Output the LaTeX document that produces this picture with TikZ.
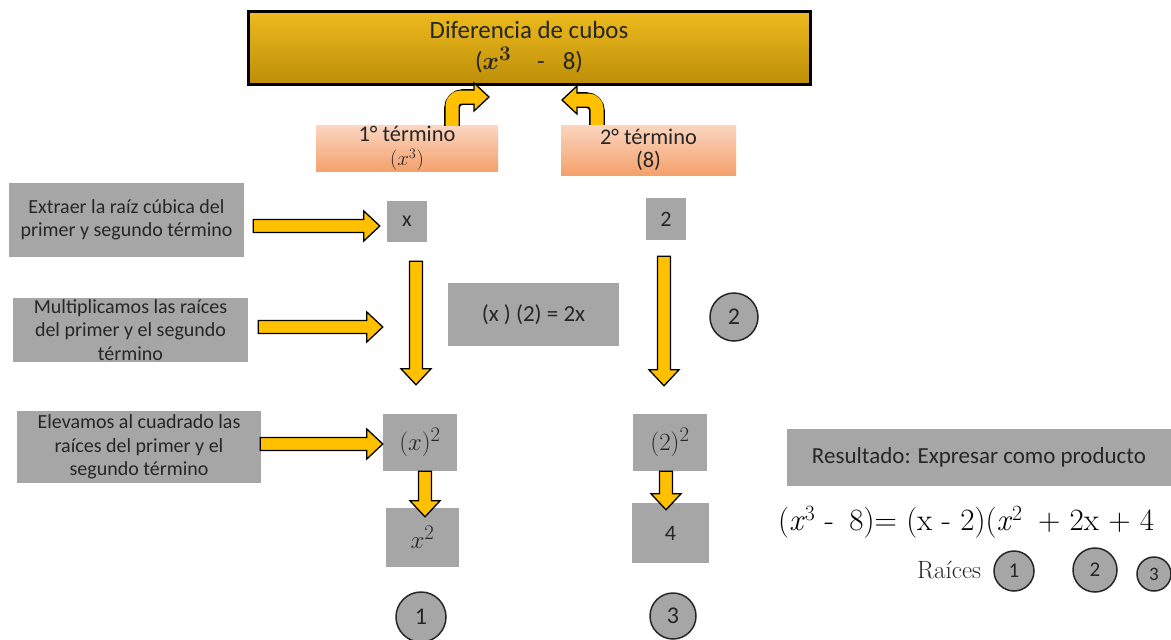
\documentclass[tikz,border=0pt]{standalone}
\usepackage{amsmath}
\usepackage{fontspec}
\setsansfont{Carlito}
\usetikzlibrary{calc}
\definecolor{boxgray}{HTML}{A6A6A6}
\definecolor{txt}{HTML}{262626}
\definecolor{arrgold}{HTML}{FFC000}
\definecolor{goldtop}{HTML}{EDBB1E}
\definecolor{goldmid}{HTML}{E0AC14}
\definecolor{goldbot}{HTML}{BD8E08}
\definecolor{peachtop}{HTML}{FBD5BF}
\definecolor{peachbot}{HTML}{F4A16C}
\def\arwS{6.5pt}
\def\arwH{15pt}
\def\arwL{16pt}
\begin{document}
\begin{tikzpicture}[x=1pt,y=-1pt,
  gbox/.style={fill=boxgray,text=txt,inner sep=0pt,align=center,
    font=\sffamily\fontsize{20}{23.5}\selectfont},
  mbox/.style={gbox,font=\sffamily\fontsize{22}{25}\selectfont},
  mathbox/.style={gbox,font=\sffamily\fontsize{24.88}{28}\selectfont},
  term/.style={top color=peachtop,bottom color=peachbot,text=txt,inner sep=0pt,
    align=center,font=\sffamily\fontsize{22.4}{23.5}\selectfont},
  titlebox/.style={top color=goldtop,middle color=goldmid,bottom color=goldbot,
    draw=black,line width=3pt,text=txt,inner sep=0pt,align=center,
    font=\sffamily\fontsize{24.88}{31}\selectfont},
  numc/.style={circle,fill=boxgray,draw=txt,line width=1.5pt,text=txt,inner sep=0pt,
    font=\sffamily\fontsize{24}{26}\selectfont},
  blockarrow/.style={fill=arrgold,draw=black,line width=1.3pt,line join=miter,
    to path={coordinate (bs) at (\tikztostart) coordinate (bt) at (\tikztotarget)
      coordinate (bh) at ($(bt)!\arwL!(bs)$)
      ($(bs)!\arwS!90:(bt)$) -- ($(bh)!\arwS!90:(bt)$) -- ($(bh)!\arwH!90:(bt)$)
      -- (bt) -- ($(bh)!\arwH!-90:(bt)$) -- ($(bh)!\arwS!-90:(bt)$)
      -- ($(bs)!\arwS!-90:(bt)$) -- cycle}},
  casing/.style={line width=15.6pt,draw=black,rounded corners=11pt},
  core/.style={line width=13pt,draw=arrgold,rounded corners=9pt}
]
\useasboundingbox (0,0) rectangle (1171,640);
\fill[white] (0,0) rectangle (1171,640);

% title
\node[titlebox,minimum width=562,minimum height=73] (title) at (529,47.5)
  {Diferencia de cubos\\($\boldsymbol{x}^{\boldsymbol{3}}$\hspace{26pt}-\hspace{18pt}8)};

% terms
\node[term,minimum width=182,minimum height=45] (t1) at (407,148.5)
  {1° término\\[1pt]$(x^3)$};
\node[term,minimum width=175,minimum height=50] (t2) at (648.5,150)
  {2° término\\(8)};

% bent arrows
\draw[casing] ($(t1.north)+(45,0)$) -- (452,97) -- (474,97);
\draw[core] ($(t1.north)+(45,0)$) -- (452,97) -- (474,97);
\fill[arrgold] (474,83) -- (489,97) -- (474,111) -- cycle;
\draw[line width=1.3pt,line join=miter] (474,90.5) -- (474,83) -- (489,97) -- (474,111) -- (474,103.5);

\draw[casing] ($(t2.north)+(-51.5,0)$) -- (597,100) -- (577,100);
\draw[core] ($(t2.north)+(-51.5,0)$) -- (597,100) -- (577,100);
\fill[arrgold] (577,86) -- (562,100) -- (577,114) -- cycle;
\draw[line width=1.3pt,line join=miter] (577,93.5) -- (577,86) -- (562,100) -- (577,114) -- (577,106.5);

% left explanation boxes
\node[gbox,minimum width=235,minimum height=74] (A) at (126.5,220)
  {Extraer la raíz cúbica del\\primer y segundo término};
\node[gbox,minimum width=235,minimum height=64] (B) at (130.5,330)
  {Multiplicamos las raíces\\del primer y el segundo\\término};
\node[gbox,minimum width=244,minimum height=72] (C) at (139,447)
  {Elevamos al cuadrado las\\raíces del primer y el\\segundo término};

% values
\node[mbox,minimum width=40,minimum height=41] (bx) at (407,221.5) {x};
\node[mbox,minimum width=40,minimum height=42] (b2) at (666,219) {2};
\node[gbox,font=\sffamily\fontsize{23}{26}\selectfont,minimum width=171,minimum height=63]
  (prod) at (533.5,314.5) {(x ) (2) = 2x};
\node[mathbox,minimum width=74,minimum height=57] (bx2) at (420,442.5) {$(x)^2$};
\node[mathbox,minimum width=74,minimum height=57] (b22) at (670,442.5) {$(2)^2$};
\node[mathbox,minimum width=73,minimum height=59] (bxx) at (422.5,537.5) {$x^2$};
\node[mbox,minimum width=77,minimum height=60] (b4) at (670.5,533) {4};

% circles
\node[numc,minimum size=50] (c1) at (421,617) {1};
\node[numc,minimum size=48] (c2) at (734,317) {2};
\node[numc,minimum size=46] (c3) at (673,616) {3};

% block arrows
\draw[blockarrow] ($(A.east)+(9,6)$) to ($(bx.west)+(-7,4.5)$);
\draw[blockarrow] ($(B.east)+(10,-3)$) to ($(bx2.west |- B.east)+(0,-3)$);
\draw[blockarrow] ($(C.east)+(-1,-3)$) to ($(bx2.west)+(0,1.5)$);
\draw[blockarrow] ($(bx.south)+(9,19)$) to ($(bx2.north)+(-4,-29)$);
\draw[blockarrow] ($(b2.south)+(-2,16)$) to ($(b22.north)+(-6,-28)$);
\draw[blockarrow] ($(bx2.south)+(5,0)$) to ($(bxx.north)+(2.5,9)$);
\draw[blockarrow] ($(b22.south)+(-4,0)$) to ($(b4.north)+(-4.5,7)$);

% result
\node[gbox,font=\sffamily\fontsize{23}{26}\selectfont,minimum width=384,minimum height=57]
  (res) at (979,457.5) {Resultado: Expresar como producto};
\node[anchor=base west,inner sep=0pt,text=black,font=\rmfamily\fontsize{31}{34}\selectfont]
  (eq) at (778,530) {(\textit{x}\textsuperscript{3} -\hspace{6pt} 8)= (x - 2)(\textit{x}\textsuperscript{2}\hspace{6pt} + 2x + 4};
\node[anchor=base west,inner sep=0pt,text=txt,font=\rmfamily\fontsize{25}{28}\selectfont]
  (raices) at (917,578) {Raíces};
\node[numc,minimum size=40,font=\sffamily\fontsize{21}{23}\selectfont] (r1) at (1014,571) {1};
\node[numc,minimum size=44,font=\sffamily\fontsize{21}{23}\selectfont] (r2) at (1095,570) {2};
\node[numc,minimum size=34,font=\sffamily\fontsize{19}{21}\selectfont] (r3) at (1154,574) {3};
\end{tikzpicture}
\end{document}
